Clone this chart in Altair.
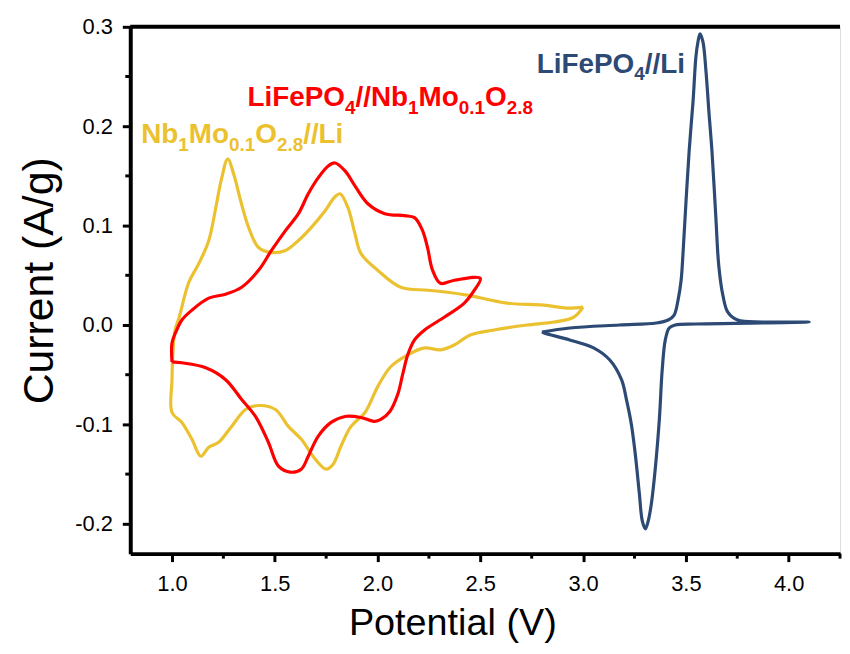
import altair as alt
import pandas as pd

# ---------------- data ----------------
# Nb1Mo0.1O2.8//Li  (yellow)
nb_v = [3.00, 2.955, 2.858, 2.727, 2.567, 2.451, 2.374, 2.306, 2.229, 2.147, 2.064, 2.001,
        1.939, 1.871, 1.822, 1.784, 1.750, 1.697, 1.629, 1.566, 1.503, 1.421, 1.358, 1.290,
        1.227, 1.179, 1.140, 1.097, 1.048, 1.000, 1.000, 1.005, 1.015, 1.034, 1.082, 1.131,
        1.179, 1.213, 1.242, 1.271, 1.300, 1.334, 1.373, 1.421, 1.484, 1.552, 1.615, 1.677,
        1.745, 1.793, 1.818, 1.856, 1.890, 1.919, 2.001, 2.113, 2.243, 2.340, 2.437, 2.630,
        2.809, 2.921, 3.00]
nb_i = [0.018, 0.008, 0.003, 0.000, -0.005, -0.010, -0.020, -0.025, -0.023, -0.030, -0.042, -0.062,
        -0.088, -0.102, -0.122, -0.140, -0.145, -0.135, -0.115, -0.102, -0.085, -0.081, -0.085, -0.102,
        -0.118, -0.123, -0.132, -0.115, -0.098, -0.088, -0.055, -0.025, -0.005, 0.007, 0.043, 0.062,
        0.085, 0.118, 0.148, 0.167, 0.152, 0.125, 0.098, 0.078, 0.073, 0.075, 0.085, 0.098,
        0.115, 0.129, 0.132, 0.118, 0.092, 0.072, 0.055, 0.038, 0.035, 0.033, 0.030, 0.022,
        0.020, 0.017, 0.018]

# LiFePO4//Nb1Mo0.1O2.8  (red)
full_v = [1.000, 1.000, 1.019, 1.048, 1.097, 1.179, 1.261, 1.339, 1.421, 1.484, 1.552, 1.615,
          1.663, 1.711, 1.760, 1.793, 1.842, 1.890, 1.953, 2.035, 2.132, 2.180, 2.219, 2.243,
          2.268, 2.306, 2.374, 2.500, 2.471, 2.422, 2.326, 2.229, 2.180, 2.147, 2.122, 2.098,
          2.060, 2.016, 1.987, 1.919, 1.842, 1.774, 1.711, 1.663, 1.629, 1.576, 1.518, 1.469,
          1.406, 1.339, 1.261, 1.164, 1.048, 1.000]
full_i = [-0.037, -0.018, -0.007, 0.005, 0.015, 0.027, 0.031, 0.038, 0.055, 0.075, 0.095, 0.112,
          0.132, 0.148, 0.160, 0.163, 0.155, 0.140, 0.122, 0.112, 0.110, 0.108, 0.095, 0.078,
          0.055, 0.042, 0.045, 0.047, 0.035, 0.022, 0.008, -0.005, -0.015, -0.030, -0.050, -0.070,
          -0.087, -0.095, -0.097, -0.093, -0.092, -0.098, -0.112, -0.132, -0.145, -0.148, -0.142, -0.118,
          -0.092, -0.075, -0.055, -0.043, -0.038, -0.037]

# LiFePO4//Li  (blue)
lfp_v = [2.80, 2.935, 3.177, 3.356, 3.414, 3.443, 3.462, 3.477, 3.487, 3.501, 3.516, 3.535,
         3.549, 3.559, 3.569, 3.583, 3.598, 3.612, 3.627, 3.646, 3.660, 3.680, 3.704, 3.752,
         3.873, 4.10, 3.873, 3.549, 3.448, 3.419, 3.400, 3.385, 3.371, 3.351, 3.332, 3.317,
         3.303, 3.288, 3.274, 3.254, 3.235, 3.211, 3.187, 3.129, 3.051, 2.935, 2.81, 2.80]
lfp_i = [-0.007, -0.003, 0.000, 0.002, 0.005, 0.010, 0.025, 0.045, 0.075, 0.125, 0.175, 0.225,
         0.270, 0.285, 0.293, 0.285, 0.255, 0.215, 0.175, 0.108, 0.060, 0.030, 0.013, 0.005,
         0.003, 0.003, 0.002, 0.001, 0.000, -0.003, -0.015, -0.045, -0.095, -0.145, -0.180, -0.197,
         -0.205, -0.197, -0.170, -0.130, -0.100, -0.075, -0.055, -0.035, -0.023, -0.015, -0.008, -0.007]

series_names = ["Nb1Mo0.1O2.8//Li", "LiFePO4//Nb1Mo0.1O2.8", "LiFePO4//Li"]
series_colors = ["#EBC12F", "#FF0000", "#2D4A75"]

x_major = [1.0, 1.5, 2.0, 2.5, 3.0, 3.5, 4.0]
x_minor = [1.25, 1.75, 2.25, 2.75, 3.25, 3.75, 4.25]
y_major = [-0.2, -0.1, 0.0, 0.1, 0.2, 0.3]
y_minor = [-0.15, -0.05, 0.05, 0.15, 0.25]

# ---------------- build tables ----------------
frames = []
for name, vs, is_ in zip(series_names, [nb_v, full_v, lfp_v], [nb_i, full_i, lfp_i]):
    frames.append(pd.DataFrame({"v": vs, "i": is_, "series": name, "idx": range(len(vs))}))
df = pd.concat(frames, ignore_index=True)

W, H = 714, 530
FONT = "Liberation Sans"

xscale = alt.Scale(domain=[0.797, 4.25], nice=False, zero=False)
yscale = alt.Scale(domain=[-0.23, 0.30], nice=False, zero=False)

xaxis = alt.Axis(values=x_major, format=".1f", title="Potential (V)", grid=False,
                 titleFont=FONT, titleFontSize=38, titleFontWeight="normal", titleColor="black",
                 titleX=324, titleY=81, titleAlign="center", titleBaseline="alphabetic",
                 labelFont=FONT, labelFontSize=22, labelColor="black", labelPadding=12,
                 labelFlush=False, labelOverlap=False,
                 tickSize=8, tickWidth=3, tickColor="black",
                 domainColor="black", domainWidth=4)
yaxis = alt.Axis(values=y_major, title="Current (A/g)", grid=False,
                 labelExpr="replace(format(datum.value, '.1f'), '\u2212', '-')",
                 titleFont=FONT, titleFontSize=43, titleFontWeight="normal", titleColor="black",
                 titleAngle=270, titleX=-78, titleY=255, titleAlign="center", titleBaseline="alphabetic",
                 labelFont=FONT, labelFontSize=22, labelColor="black", labelPadding=10,
                 labelFlush=False, labelOverlap=False,
                 tickSize=8, tickWidth=3, tickColor="black",
                 domainColor="black", domainWidth=4)

X = alt.X("v:Q", scale=xscale, axis=xaxis)
Y = alt.Y("i:Q", scale=yscale, axis=yaxis)

lines = alt.Chart(df).mark_line(strokeWidth=3.2, interpolate="catmull-rom").encode(
    x=X, y=Y,
    color=alt.Color("series:N", scale=alt.Scale(domain=series_names, range=series_colors), legend=None),
    order=alt.Order("idx:Q"),
    detail="series:N",
)

xminor_df = pd.DataFrame({"v": x_minor})
yminor_df = pd.DataFrame({"i": y_minor})
xminor = alt.Chart(xminor_df).mark_rule(color="black", strokeWidth=3).encode(
    x=X, y=alt.value(H), y2=alt.value(H + 5))
yminor = alt.Chart(yminor_df).mark_rule(color="black", strokeWidth=3).encode(
    y=Y, x=alt.value(0), x2=alt.value(-5))

top_line = alt.Chart(pd.DataFrame({"a": [0]})).mark_rule(color="black", strokeWidth=4).encode(
    x=alt.value(0), x2=alt.value(W), y=alt.value(0))

# ---------------- labels with subscripts ----------------
AB = {'L': 611, 'i': 278, 'F': 611, 'e': 556, 'P': 667, 'O': 778, '4': 556, '/': 278,
      'N': 722, 'b': 611, '1': 556, 'M': 833, 'o': 611, '0': 556, '.': 278, '2': 556, '8': 556}
MAIN, SUB = 28, 19


def label_layers(parts, x0, y0, color):
    layers = []
    x = x0
    for txt, sub in parts:
        size = SUB if sub else MAIN
        yy = y0 + (8 if sub else 0)
        layers.append(
            alt.Chart(pd.DataFrame({"a": [0]})).mark_text(
                align="left", baseline="alphabetic", font=FONT, fontWeight="bold",
                fontSize=size, color=color).encode(
                x=alt.value(x), y=alt.value(yy), text=alt.value(txt)))
        x += sum(AB[c] for c in txt) * size / 1000.0
    return layers


red_parts = [("LiFePO", 0), ("4", 1), ("//Nb", 0), ("1", 1), ("Mo", 0), ("0.1", 1), ("O", 0), ("2.8", 1)]
yel_parts = [("Nb", 0), ("1", 1), ("Mo", 0), ("0.1", 1), ("O", 0), ("2.8", 1), ("//Li", 0)]
blue_parts = [("LiFePO", 0), ("4", 1), ("//Li", 0)]

texts = (label_layers(red_parts, 118, 80, "#FF0000")
         + label_layers(yel_parts, 11, 117, "#EBC12F")
         + label_layers(blue_parts, 409, 46, "#2D4A75"))

chart = alt.layer(lines, xminor, yminor, top_line, *texts).properties(
    width=W, height=H,
    autosize=alt.AutoSizeParams(type="none"),
    padding={"left": 123, "top": 17, "right": 2, "bottom": 90},
).configure_view(stroke=None).configure(background="white")

chart.save("out.html", embed_options={"renderer": "svg", "actions": False})
